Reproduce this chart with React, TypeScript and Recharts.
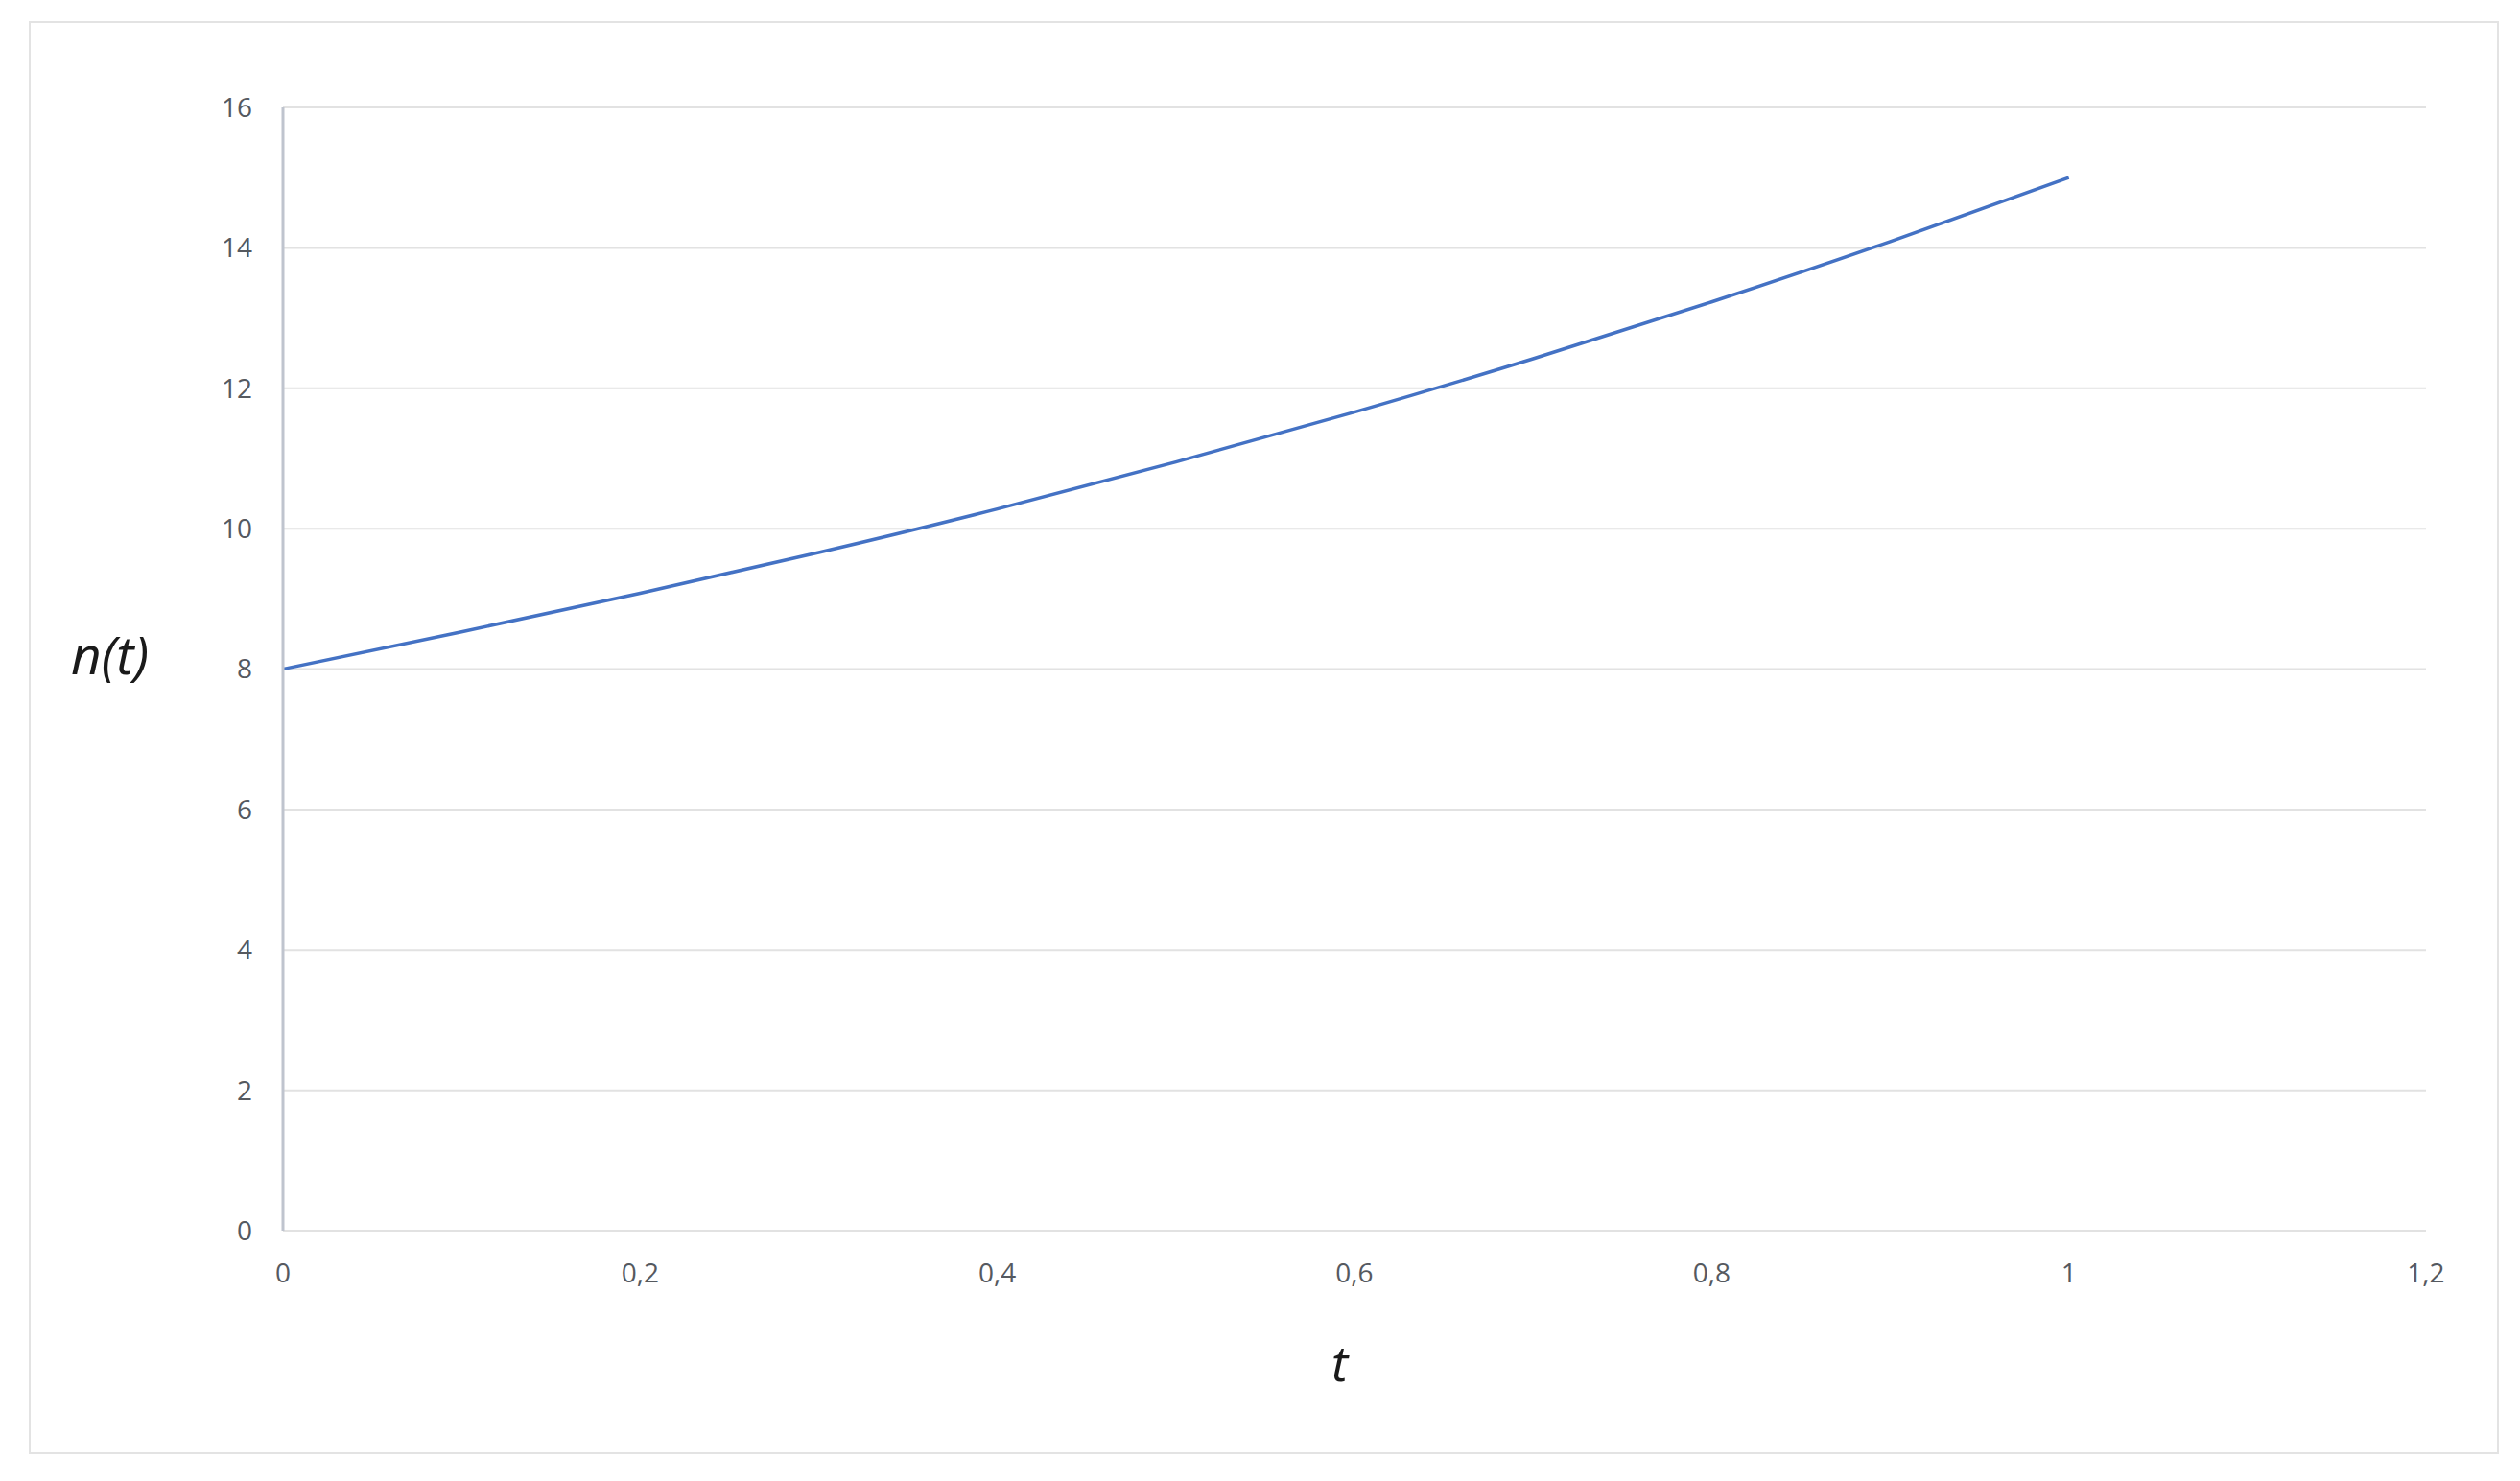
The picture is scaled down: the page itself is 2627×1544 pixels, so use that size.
import React from "react";
import { LineChart, Line, XAxis, YAxis, CartesianGrid } from "recharts";

// values
const tValues = [0, 0.1, 0.2, 0.3, 0.4, 0.5, 0.6, 0.7, 0.8, 0.9, 1];
const nValues = [8, 8.53, 9.08, 9.66, 10.28, 10.95, 11.66, 12.42, 13.23, 14.09, 15];
const xTicks = [0, 0.2, 0.4, 0.6, 0.8, 1, 1.2];
const yTicks = [0, 2, 4, 6, 8, 10, 12, 14, 16];

const data = tValues.map((t, i) => ({ t, n: nValues[i] }));

const fmt = (v: number) => String(Number(v.toFixed(2))).replace(".", ",");

const tickStyle = { fill: "#55595f", fontSize: 28, fontFamily: "'Open Sans', sans-serif" };

const App: React.FC = () => {
  return (
    <div style={{ position: "absolute", left: 0, top: 0, width: 2627, height: 1544, background: "#fff" }}>
      {/* outer frame */}
      <div
        style={{
          position: "absolute",
          left: 30,
          top: 22,
          width: 2575,
          height: 1494,
          border: "2px solid #e3e3e3",
          boxSizing: "border-box",
        }}
      />
      <div style={{ position: "absolute", left: 0, top: 0 }}>
        <LineChart
          width={2627}
          height={1544}
          data={data}
          margin={{ top: 112, right: 98, left: 235, bottom: 201 }}
        >
          <CartesianGrid vertical={false} stroke="#e2e2e2" strokeWidth={2} />
          <XAxis
            dataKey="t"
            type="number"
            domain={[0, 1.2]}
            ticks={xTicks}
            tickFormatter={fmt}
            axisLine={{ stroke: "#e2e2e2", strokeWidth: 2 }}
            tickLine={false}
            tickSize={0}
            tickMargin={34}
            height={60}
            tick={tickStyle}
          />
          <YAxis
            type="number"
            domain={[0, 16]}
            ticks={yTicks}
            tickFormatter={fmt}
            axisLine={{ stroke: "#bfc4ce", strokeWidth: 3 }}
            tickLine={false}
            tickSize={0}
            tickMargin={32}
            width={60}
            tick={tickStyle}
          />
          <Line
            type="natural"
            dataKey="n"
            stroke="#4472c4"
            strokeWidth={3.5}
            dot={false}
            isAnimationActive={false}
          />
        </LineChart>
      </div>
      {/* axis titles */}
      <div
        style={{
          position: "absolute",
          left: 74,
          top: 644,
          fontSize: 55,
          lineHeight: "76px",
          fontStyle: "italic",
          fontFamily: "'Open Sans', sans-serif",
          color: "#1a1a1a",
        }}
      >
        n(t)
      </div>
      <div
        style={{
          position: "absolute",
          left: 1388,
          top: 1384,
          fontSize: 52,
          lineHeight: "72px",
          fontStyle: "italic",
          fontFamily: "'Open Sans', sans-serif",
          color: "#1a1a1a",
        }}
      >
        t
      </div>
    </div>
  );
};

export default App;
